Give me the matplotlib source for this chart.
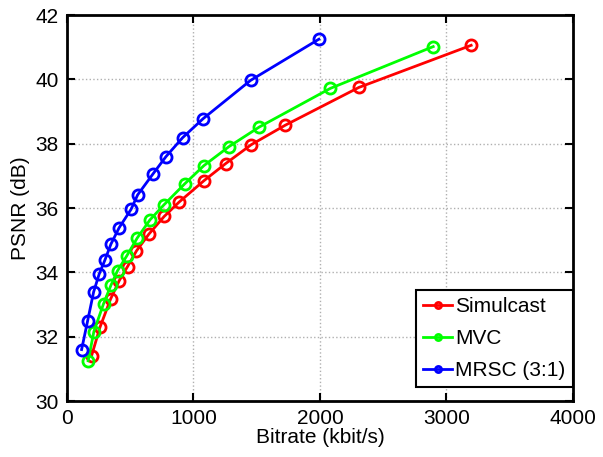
import numpy as np
import matplotlib
matplotlib.use("Agg")
from matplotlib import pyplot as plt

plt.rcParams['font.family'] = ['Liberation Sans', 'DejaVu Sans']

# ============== DATA ===================
simulcast_rate = [195, 261, 345, 413, 479, 550, 648, 769, 888, 1083, 1254, 1457, 1728, 2308, 3196]
simulcast_psnr = [31.41, 32.29, 33.17, 33.74, 34.18, 34.67, 35.19, 35.74, 36.19, 36.85, 37.38, 37.97, 38.58, 39.75, 41.06]

mvc_rate = [168, 213, 290, 348, 400, 471, 556, 656, 767, 933, 1083, 1281, 1521, 2082, 2896]
mvc_psnr = [31.25, 32.16, 33.03, 33.60, 34.05, 34.50, 35.07, 35.63, 36.10, 36.76, 37.32, 37.91, 38.52, 39.72, 41.02]

mrsc_rate = [116, 164, 211, 255, 300, 348, 413, 507, 559, 682, 783, 915, 1077, 1452, 1992]
mrsc_psnr = [31.60, 32.50, 33.39, 33.95, 34.38, 34.88, 35.39, 35.96, 36.41, 37.07, 37.60, 38.19, 38.78, 39.97, 41.25]

fig = plt.figure(figsize=(6.03, 4.57), dpi=100)
ax = fig.add_axes([0.111, 0.1225, 0.839, 0.8445])

style = dict(marker='o', markersize=8, markerfacecolor='none', markeredgewidth=2, linewidth=2)
ax.plot(simulcast_rate, simulcast_psnr, color='#ff0000', label='Simulcast', **style)
ax.plot(mvc_rate, mvc_psnr, color='#00ff00', label='MVC', **style)
ax.plot(mrsc_rate, mrsc_psnr, color='#0000ff', label='MRSC (3:1)', **style)

ax.set_xlim(0, 4000)
ax.set_ylim(30, 42)
ax.set_xticks(np.arange(0, 4001, 1000))
ax.set_yticks(np.arange(30, 43, 2))
ax.tick_params(direction='in', top=True, right=True, labelsize=15, length=6, width=1.5, pad=6)
ax.grid(True, color='#b0b0b0', linestyle=':', linewidth=1)
for s in ax.spines.values():
    s.set_linewidth(2)

ax.set_xlabel('Bitrate (kbit/s)', fontsize=15, labelpad=0)
ax.set_ylabel('PSNR (dB)', fontsize=15, labelpad=4)

leg = ax.legend(loc='lower right', bbox_to_anchor=(1.0, 0.036), fontsize=15, borderaxespad=0,
                fancybox=False, edgecolor='black', framealpha=1, handlelength=1.4,
                handletextpad=0.15, labelspacing=0.62, borderpad=0.35, markerscale=0.55)
leg.get_frame().set_linewidth(1.5)

plt.savefig('out.png', dpi=100)
